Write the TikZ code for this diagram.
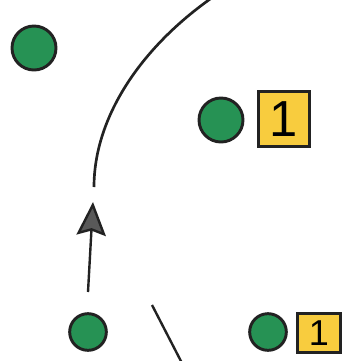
\documentclass[tikz,border=0pt]{standalone}
\usepackage{fontspec}
\setmainfont{Liberation Sans}
\usetikzlibrary{arrows.meta}
\definecolor{pitchgreen}{RGB}{38,146,84}
\definecolor{cardyellow}{RGB}{248,204,62}
\definecolor{inkgray}{RGB}{34,34,34}
\begin{document}
\begin{tikzpicture}[x=0.75pt,y=-0.75pt,
    player/.style={circle,draw=inkgray,line width=2.2pt,fill=pitchgreen,inner sep=0pt,minimum size=#1},
    player/.default=33pt,
    numbox/.style={draw=inkgray,line width=2pt,fill=cardyellow,inner sep=0pt,font=\fontsize{#1}{#1}\selectfont},
    run/.style={inkgray,line width=2pt}]
    \useasboundingbox (0,0) rectangle (344,361);
    \clip (0,0) rectangle (344,361);
    \node[player] (topleft) at (34,48) {};
    \node[player] (midright) at (221,120) {};
    \node[numbox=38pt,minimum width=38.5pt,minimum height=41.5pt] (midnum) at (284,119) {1};
    \node[player=27.5pt] (botleft) at (88,332) {};
    \node[player=27.5pt] (botright) at (268,332) {};
    \node[numbox=27pt,minimum width=32.5pt,minimum height=29.5pt] (botnum) at (319,333) {1};
    \coordinate (curvetop) at (213,-3);
    \coordinate (curveend) at (94,187);
    \coordinate (arrowfoot) at (88,292);
    \coordinate (arrowtip) at (93,202);
    \coordinate (slashtop) at (152,305);
    \coordinate (slashend) at (184,367);
    \draw[run] (curvetop) .. controls (140,48) and (94,118) .. (curveend);
    \draw[run,line width=1.8pt,-{Stealth[length=25pt,width=22pt,inset=3.5pt,fill=black!65]}] (arrowfoot) -- (arrowtip);
    \draw[run,line width=1.8pt] (slashtop) -- (slashend);
\end{tikzpicture}
\end{document}
